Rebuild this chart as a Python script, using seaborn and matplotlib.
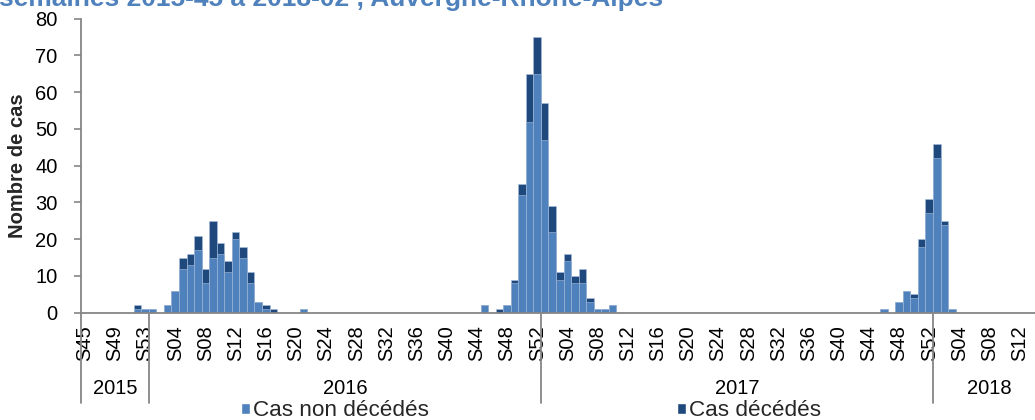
import matplotlib
matplotlib.use("Agg")
import matplotlib.pyplot as plt
import matplotlib.transforms as mtransforms
from matplotlib.patches import Patch
import pandas as pd
import seaborn as sns

# ---------------------------------------------------------------------------
# Weekly counts of cases, by year (week numbers S45-2015 ... S15-2018)
# ---------------------------------------------------------------------------
weeks_2015 = [45, 46, 47, 48, 49, 50, 51, 52, 53]
weeks_2016 = list(range(1, 53))
weeks_2017 = list(range(1, 53))
weeks_2018 = list(range(1, 16))

non_deces_2015 = [0, 0, 0, 0, 0, 0, 0, 1, 1]
deces_2015 = [0, 0, 0, 0, 0, 0, 0, 1, 0]

non_deces_2016 = [1, 0, 2, 6, 12, 13, 17, 8, 15, 16, 11, 20, 15,
                  8, 3, 1, 0, 0, 0, 0, 1, 0, 0, 0, 0, 0,
                  0, 0, 0, 0, 0, 0, 0, 0, 0, 0, 0, 0, 0,
                  0, 0, 0, 0, 0, 2, 0, 0, 2, 8, 32, 52, 65]
deces_2016 = [0, 0, 0, 0, 3, 3, 4, 4, 10, 3, 3, 2, 3,
              3, 0, 1, 1, 0, 0, 0, 0, 0, 0, 0, 0, 0,
              0, 0, 0, 0, 0, 0, 0, 0, 0, 0, 0, 0, 0,
              0, 0, 0, 0, 0, 0, 0, 1, 0, 1, 3, 13, 10]

non_deces_2017 = [47, 22, 9, 14, 8, 8, 3, 1, 1, 2, 0, 0, 0,
                  0, 0, 0, 0, 0, 0, 0, 0, 0, 0, 0, 0, 0,
                  0, 0, 0, 0, 0, 0, 0, 0, 0, 0, 0, 0, 0,
                  0, 0, 0, 0, 0, 0, 1, 0, 3, 6, 4, 18, 27]
deces_2017 = [10, 7, 2, 2, 2, 4, 1, 0, 0, 0, 0, 0, 0,
              0, 0, 0, 0, 0, 0, 0, 0, 0, 0, 0, 0, 0,
              0, 0, 0, 0, 0, 0, 0, 0, 0, 0, 0, 0, 0,
              0, 0, 0, 0, 0, 0, 0, 0, 0, 0, 1, 2, 4]

non_deces_2018 = [42, 24, 1, 0, 0, 0, 0, 0, 0, 0, 0, 0, 0, 0, 0]
deces_2018 = [4, 1, 0, 0, 0, 0, 0, 0, 0, 0, 0, 0, 0, 0, 0]

years = ["2015", "2016", "2017", "2018"]
series_label_non = "Cas non décédés"
series_label_dec = "Cas décédés"
y_label = "Nombre de cas"
title_text = "semaines 2015-45 à 2018-02 , Auvergne-Rhône-Alpes"

# ---------------------------------------------------------------------------
# Long table: one row per week
# ---------------------------------------------------------------------------
rows = []
for year, weeks, non, dec in zip(
        years,
        [weeks_2015, weeks_2016, weeks_2017, weeks_2018],
        [non_deces_2015, non_deces_2016, non_deces_2017, non_deces_2018],
        [deces_2015, deces_2016, deces_2017, deces_2018]):
    for w, n, d in zip(weeks, non, dec):
        rows.append({"annee": year, "cle": f"{year}-S{w:02d}",
                     "semaine": f"S{w:02d}", "non_deces": n, "deces": d})
df = pd.DataFrame(rows)
df["total"] = df["non_deces"] + df["deces"]
order = list(df["cle"])
n_weeks = len(order)

LIGHT = "#4F81BD"
DARK = "#1F497D"
AXIS = "#868686"

sns.set_theme(style="white")
plt.rcParams["font.family"] = ["Liberation Sans", "DejaVu Sans"]

W, H = 1035, 420
fig = plt.figure(figsize=(W / 100, H / 100), dpi=100)

px_per_week = 7.54
left_px, zero_px, top_px = 81, 312.7, 18.7
ax = fig.add_axes([left_px / W, 1 - zero_px / H,
                   n_weeks * px_per_week / W, (zero_px - top_px) / H])

# Stacked bars: total (dark) underneath, non-deceased (light) drawn on top
sns.barplot(data=df, x="cle", y="total", order=order, color=DARK,
            saturation=1, width=1.0, errorbar=None, ax=ax,
            edgecolor="#a9bfdc", linewidth=0.4)
sns.barplot(data=df, x="cle", y="non_deces", order=order, color=LIGHT,
            saturation=1, width=1.0, errorbar=None, ax=ax,
            edgecolor="#a9bfdc", linewidth=0.4)

ax.set_xlim(-0.5, n_weeks - 0.5)
ax.set_ylim(0, 80)
ax.set_yticks(range(0, 81, 10))
ax.set_xlabel("")
ax.set_ylabel(y_label, fontsize=14.5, fontweight="bold")
ax.yaxis.set_label_coords(-(left_px - 27) / (n_weeks * px_per_week), 0.5)

tick_pos = list(range(0, n_weeks, 4))
ax.set_xticks(tick_pos)
ax.set_xticklabels([df["semaine"].iloc[i] for i in tick_pos], rotation=90,
                   fontsize=14.5, color="black")
ax.tick_params(axis="x", length=0, pad=9)
ax.tick_params(axis="y", direction="out", length=5, width=1.2, color=AXIS,
               labelsize=14.5, labelcolor="black", pad=12, left=True)

for side in ["top", "right"]:
    ax.spines[side].set_visible(False)
for side in ["left", "bottom"]:
    ax.spines[side].set_color(AXIS)
    ax.spines[side].set_linewidth(1.3)
ax.grid(False)

# Year separators and year labels under the week labels
trans = mtransforms.blended_transform_factory(ax.transData, ax.transAxes)
sep_bottom = -(403 - zero_px) / (zero_px - top_px)
bounds = [-0.5]
for weeks in [weeks_2015, weeks_2016, weeks_2017, weeks_2018]:
    bounds.append(bounds[-1] + len(weeks))
for b in bounds:
    ax.plot([b, b], [0, sep_bottom], transform=trans, color=AXIS, lw=1.3,
            clip_on=False)
year_y = -(389 - zero_px) / (zero_px - top_px)
for year, a, b in zip(years, bounds[:-1], bounds[1:]):
    ax.text((a + b) / 2, year_y, year, transform=trans, ha="center",
            va="center", fontsize=14.5, color="black")

# Legend along the bottom edge
handles = [Patch(facecolor=LIGHT, label=series_label_non),
           Patch(facecolor=DARK, label=series_label_dec)]
fig.legend(handles=handles, loc="center left",
           bbox_to_anchor=(241 / W, 1 - 411 / H), ncol=2, frameon=False,
           fontsize=16.2, handlelength=0.42, handleheight=0.42,
           handletextpad=0.12, columnspacing=11.0, borderpad=0,
           borderaxespad=0)

# Heading, partly above the top edge
fig.text(663 / W, 1 - 6 / H, title_text, ha="right", va="baseline",
         fontsize=19, fontweight="bold", color=LIGHT)

fig.savefig("out.png", dpi=100)
